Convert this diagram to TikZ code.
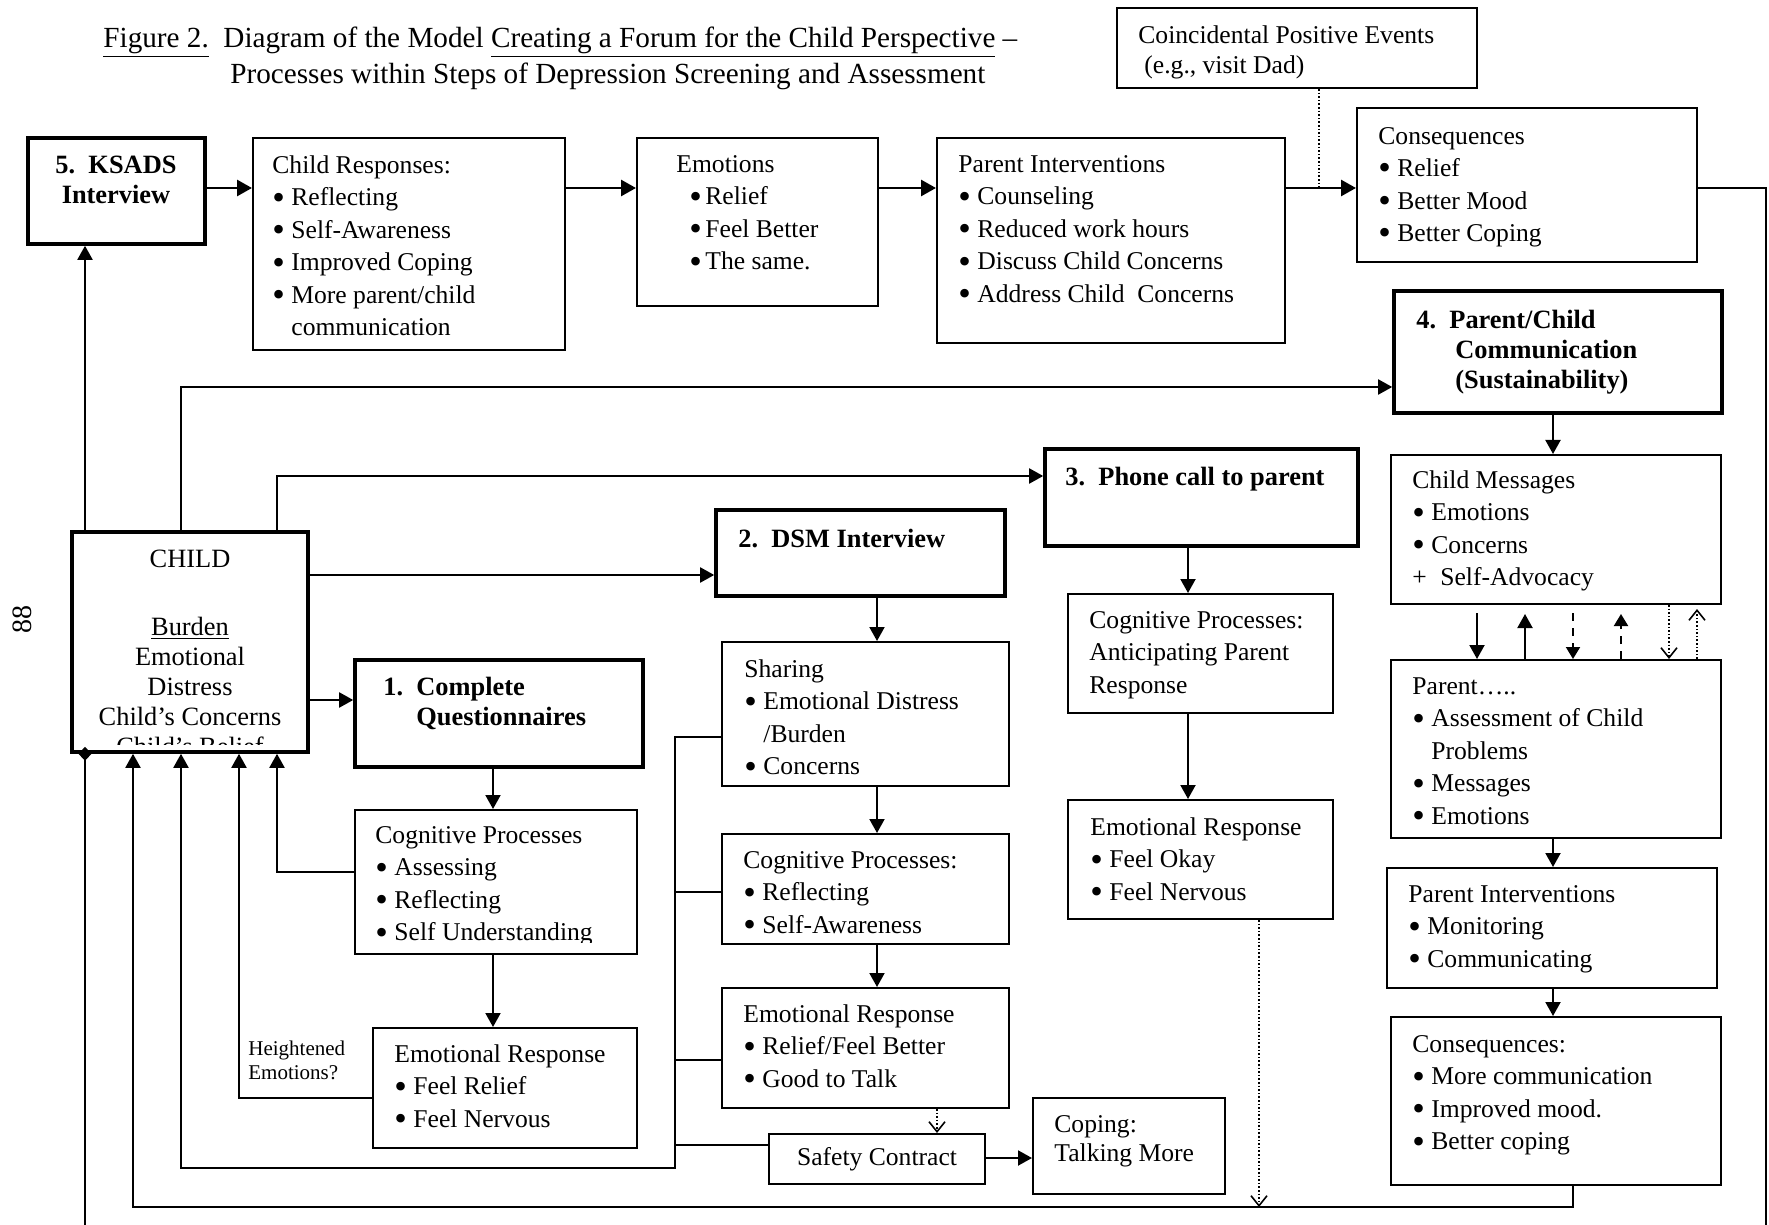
\documentclass[tikz,border=0pt]{standalone}
\usepackage{fontspec}
\usepackage{graphicx}
\setmainfont{Liberation Serif}
\usetikzlibrary{arrows.meta,fit,calc}

% font sizes (picture unit: 1 = 0.5pt)
\newcommand\bodyfont{\fontsize{12.8pt}{16.25pt}\selectfont}
\newcommand\stepfont{\fontsize{13.2pt}{15pt}\selectfont\bfseries}
\newcommand\childfont{\fontsize{13.2pt}{15pt}\selectfont}
\newcommand\notefont{\fontsize{10.5pt}{12pt}\selectfont}
\newcommand\headfont{\fontsize{14.6pt}{18pt}\selectfont}
% list helpers
\newcommand\bigdot{\raisebox{-0.13em}{\scalebox{1.4}{\textbullet}}}
\newcommand\mybul{\makebox[9.5pt][l]{\bigdot}}
\newcommand\myhang{\hspace*{9.5pt}}

\tikzset{
  box/.style={draw, line width=1pt, inner sep=0pt},
  stepbox/.style={draw, line width=1.8pt, inner sep=0pt},
  txt/.style={anchor=north west, inner sep=0pt, align=left, font=\bodyfont},
  steptxt/.style={anchor=north west, inner sep=0pt, align=left, font=\stepfont},
  ln/.style={line width=1pt},
  arr/.style={line width=1pt, -{Triangle[length=7pt,width=7.5pt]}},
  arrT/.style={line width=1.4pt, -{Triangle[length=7.5pt,width=8pt]}},
  dashedarr/.style={line width=1pt, dash pattern=on 4pt off 3.5pt, -{Triangle[length=6pt,width=7pt]}},
  dotln/.style={line width=0.8pt, dash pattern=on 0.8pt off 1pt},
  dotarr/.style={line width=0.8pt, dash pattern=on 0.8pt off 1pt, -{Straight Barb[length=5pt,width=8pt]}},
  dia/.style={line width=1pt, -{Diamond[length=7pt,width=6.5pt]}, shorten >=-3.5pt},
}

\begin{document}
\begin{tikzpicture}[x=0.5pt,y=-0.5pt]
\fill[white] (0,0) rectangle (1769,1225);
\useasboundingbox (0,0) rectangle (1769,1225);

% ---------- heading and page number ----------
\node[anchor=north west, inner sep=0pt, align=left, font=\headfont] (title) at (103,22)
  {\strut\underline{Figure 2.}\ \ Diagram of the Model \underline{Creating a Forum for the Child Perspective} –\\
   \hspace*{63.5pt}Processes within Steps of Depression Screening and Assessment};
\node[rotate=90, inner sep=0pt, font=\fontsize{14pt}{16pt}\selectfont] (pagenum) at (22,619) {88};

% ---------- top row ----------
\node[stepbox, fit={(28,138) (205,244)}] (ksads) {};
\node[anchor=north, inner sep=0pt, align=center, font=\stepfont] (t-ksads) at (116,152)
  {\strut 5.\ \ KSADS\\Interview};

\node[box, fit={(253,138) (565,350)}] (cresp) {};
\node[txt] (t-cresp) at (272,150.25)
  {\strut Child Responses:\\\mybul Reflecting\\\mybul Self-Awareness\\\mybul Improved Coping\\\mybul More parent/child\\\myhang communication};

\node[box, fit={(637,138) (878,306)}] (emot) {};
\node[txt] (t-emot) at (676,149.25)
  {\strut Emotions\\\hspace*{6.5pt}\makebox[8pt][l]{\bigdot}Relief\\\hspace*{6.5pt}\makebox[8pt][l]{\bigdot}Feel Better\\\hspace*{6.5pt}\makebox[8pt][l]{\bigdot}The same.};

\node[box, fit={(937,138) (1285,343)}] (pint1) {};
\node[txt] (t-pint1) at (958,149.25)
  {\strut Parent Interventions\\\mybul Counseling\\\mybul Reduced work hours\\\mybul Discuss Child Concerns\\\mybul Address Child\ \ Concerns};

\node[box, fit={(1117,8) (1477,88)}] (coincid) {};
\node[txt] (t-coincid) at (1138,20.5)
  {\strut Coincidental Positive Events\\[-1.5pt]\hspace*{3pt}(e.g., visit Dad)};

\node[box, fit={(1357,108) (1697,262)}] (cons1) {};
\node[txt] (t-cons1) at (1378,121)
  {\strut Consequences\\\mybul Relief\\\mybul Better Mood\\\mybul Better Coping};

% ---------- CHILD ----------
\node[stepbox, fit={(72,532) (308,752)}] (child) {};
\begin{scope}
  \clip (72,532) rectangle (308,744);
  \node[anchor=north, inner sep=0pt, align=center, font=\childfont] (t-child) at (190,546)
    {\strut CHILD\\[19pt]\underline{Burden}\\Emotional\\Distress\\Child’s Concerns\\Child’s Belief};
\end{scope}

% ---------- step 1 ----------
\node[stepbox, fit={(355,660) (643,767)}] (cq) {};
\node[steptxt] (t-cq) at (383,674)
  {\strut 1.\ \ Complete\\\hspace*{16.5pt}Questionnaires};

\node[box, fit={(355,810) (637,954)}] (qcp) {};
\begin{scope}
  \clip (355,810) rectangle (637,942);
  \node[txt] (t-qcp) at (375,820.25)
    {\strut Cognitive Processes\\\mybul Assessing\\\mybul Reflecting\\\mybul Self Understanding};
\end{scope}

\node[box, fit={(373,1028) (637,1148)}] (qer) {};
\node[txt] (t-qer) at (394,1039.25)
  {\strut Emotional Response\\\mybul Feel Relief\\\mybul Feel Nervous};

\node[anchor=north west, inner sep=0pt, align=left, font=\notefont] (t-heightened) at (248,1038)
  {\strut Heightened\\Emotions?};

% ---------- step 2 ----------
\node[stepbox, fit={(716,510) (1005,596)}] (dsm) {};
\node[steptxt] (t-dsm) at (738,526) {\strut 2.\ \ DSM Interview};

\node[box, fit={(722,642) (1009,786)}] (sharing) {};
\node[txt] (t-sharing) at (744,654.25)
  {\strut Sharing\\\mybul Emotional Distress\\\myhang /Burden\\\mybul Concerns};

\node[box, fit={(722,834) (1009,944)}] (dcp) {};
\node[txt] (t-dcp) at (743,845.25)
  {\strut Cognitive Processes:\\\mybul Reflecting\\\mybul Self-Awareness};

\node[box, fit={(722,988) (1009,1108)}] (der) {};
\node[txt] (t-der) at (743,999.25)
  {\strut Emotional Response\\\mybul Relief/Feel Better\\\mybul Good to Talk};

\node[box, fit={(769,1134) (985,1184)}] (safety) {};
\node[inner sep=0pt, font=\bodyfont] (t-safety) at (safety.center) {Safety Contract};

\node[box, fit={(1033,1098) (1225,1194)}] (coping) {};
\node[txt] (t-coping) at (1054,1109.25) {\strut Coping:\\[-1.5pt]Talking More};

% ---------- step 3 ----------
\node[stepbox, fit={(1045,449) (1358,546)}] (phone) {};
\node[steptxt] (t-phone) at (1065,464) {\strut 3.\ \ Phone call to parent};

\node[box, fit={(1068,594) (1333,713)}] (canti) {};
\node[txt] (t-canti) at (1089,605.25)
  {\strut Cognitive Processes:\\Anticipating Parent\\Response};

\node[box, fit={(1068,800) (1333,919)}] (per) {};
\node[txt] (t-per) at (1090,812.25)
  {\strut Emotional Response\\\mybul Feel Okay\\\mybul Feel Nervous};

% ---------- step 4 ----------
\node[stepbox, fit={(1394,291) (1722,413)}] (pc4) {};
\node[steptxt] (t-pc4) at (1416,307)
  {\strut 4.\ \ Parent/Child\\\hspace*{19.5pt}Communication\\\hspace*{19.5pt}(Sustainability)};

\node[box, fit={(1391,455) (1721,604)}] (cmsg) {};
\node[txt] (t-cmsg) at (1412,465.25)
  {\strut Child Messages\\\mybul Emotions\\\mybul Concerns\\\makebox[14pt][l]{+}Self-Advocacy};

\node[box, fit={(1391,660) (1721,838)}] (par) {};
\node[txt] (t-par) at (1412,671.25)
  {\strut Parent…..\\\mybul Assessment of Child\\\myhang Problems\\\mybul Messages\\\mybul Emotions};

\node[box, fit={(1387,868) (1717,988)}] (pint2) {};
\node[txt] (t-pint2) at (1408,879.25)
  {\strut Parent Interventions\\\mybul Monitoring\\\mybul Communicating};

\node[box, fit={(1391,1017) (1721,1185)}] (cons2) {};
\node[txt] (t-cons2) at (1412,1029.25)
  {\strut Consequences:\\\mybul More communication\\\mybul Improved mood.\\\mybul Better coping};

% ---------- top row connectors ----------
\coordinate (row) at (0,188);
\draw[arrT] (ksads.east |- row) -- (cresp.west |- row);
\draw[arrT] (cresp.east |- row) -- (emot.west |- row);
\draw[arrT] (emot.east |- row) -- (pint1.west |- row);
\draw[arrT] (pint1.east |- row) -- (cons1.west |- row);
\coordinate (cpe) at (1319,188);
\draw[dotln] (coincid.south -| cpe) -- (cpe);
\coordinate (rt) at (1766,188);
\coordinate (botR) at (1766,1226);
\draw[ln] (cons1.east |- rt) -- (rt) -- (botR);

% ---------- connectors leaving CHILD ----------
\coordinate (xL) at (85,0);
\coordinate (botL) at (85,1226);
\draw[arr] (child.north -| xL) -- (ksads.south -| xL);
\draw[dia] (botL) -- (child.south -| xL);

\coordinate (v181) at (181,387);
\draw[arr] (child.north -| v181) |- (pc4.west |- v181);
\coordinate (v277) at (277,476);
\draw[arr] (child.north -| v277) |- (phone.west |- v277);
\coordinate (h575) at (0,575);
\draw[arr] (child.east |- h575) -- (dsm.west |- h575);
\coordinate (h700) at (0,700);
\draw[arr] (child.east |- h700) -- (cq.west |- h700);

% ---------- connectors returning to CHILD ----------
\coordinate (a277) at (277,872);
\draw[arr] (qcp.west |- a277) -| (child.south -| a277);
\coordinate (a239) at (239,1098);
\draw[arr] (qer.west |- a239) -| (child.south -| a239);

\coordinate (bt) at (675,737);
\coordinate (bb) at (675,1168);
\coordinate (c181) at (181,1168);
\draw[arr] (sharing.west |- bt) -- (bt) -- (bb) -| (child.south -| c181);
\coordinate (b892) at (675,892);
\draw[ln] (dcp.west |- b892) -- (b892);
\coordinate (b1060) at (675,1060);
\draw[ln] (der.west |- b1060) -- (b1060);
\coordinate (b1145) at (675,1145);
\draw[ln] (safety.west |- b1145) -- (b1145);

\coordinate (bl) at (1573,1207);
\coordinate (c133) at (133,1207);
\draw[arr] (cons2.south -| bl) -- (bl) -| (child.south -| c133);

% ---------- step 1 flow ----------
\coordinate (x493) at (493,0);
\draw[arr] (cq.south -| x493) -- (qcp.north -| x493);
\draw[arr] (qcp.south -| x493) -- (qer.north -| x493);

% ---------- step 2 flow ----------
\coordinate (x877) at (877,0);
\draw[arr] (dsm.south -| x877) -- (sharing.north -| x877);
\draw[arr] (sharing.south -| x877) -- (dcp.north -| x877);
\draw[arr] (dcp.south -| x877) -- (der.north -| x877);
\coordinate (x937) at (937,0);
\draw[dotarr] (der.south -| x937) -- (safety.north -| x937);
\coordinate (h1158) at (0,1158);
\draw[arr] (safety.east |- h1158) -- (coping.west |- h1158);

% ---------- step 3 flow ----------
\coordinate (x1188) at (1188,0);
\draw[arr] (phone.south -| x1188) -- (canti.north -| x1188);
\draw[arr] (canti.south -| x1188) -- (per.north -| x1188);
\coordinate (dp) at (1259,1207);
\draw[dotarr] (per.south -| dp) -- (dp);

% ---------- step 4 flow ----------
\coordinate (x1553) at (1553,0);
\draw[arr] (pc4.south -| x1553) -- (cmsg.north -| x1553);
\draw[arr] (par.south -| x1553) -- (pint2.north -| x1553);
\draw[arr] (pint2.south -| x1553) -- (cons2.north -| x1553);

% exchanges between child messages and parent
\coordinate (m1) at (1477,0);
\coordinate (m2) at (1525,0);
\coordinate (m3) at (1573,0);
\coordinate (m4) at (1621,0);
\coordinate (m5) at (1669,0);
\coordinate (m6) at (1697,0);
\draw[arr, shorten <=4pt] (cmsg.south -| m1) -- (par.north -| m1);
\draw[arr, shorten >=4.5pt] (par.north -| m2) -- (cmsg.south -| m2);
\draw[dashedarr, shorten <=4pt] (cmsg.south -| m3) -- (par.north -| m3);
\draw[dashedarr, shorten >=4.5pt] (par.north -| m4) -- (cmsg.south -| m4);
\draw[dotarr] (cmsg.south -| m5) -- (par.north -| m5);
\draw[dotarr, shorten >=2pt] (par.north -| m6) -- (cmsg.south -| m6);
\end{tikzpicture}
\end{document}
